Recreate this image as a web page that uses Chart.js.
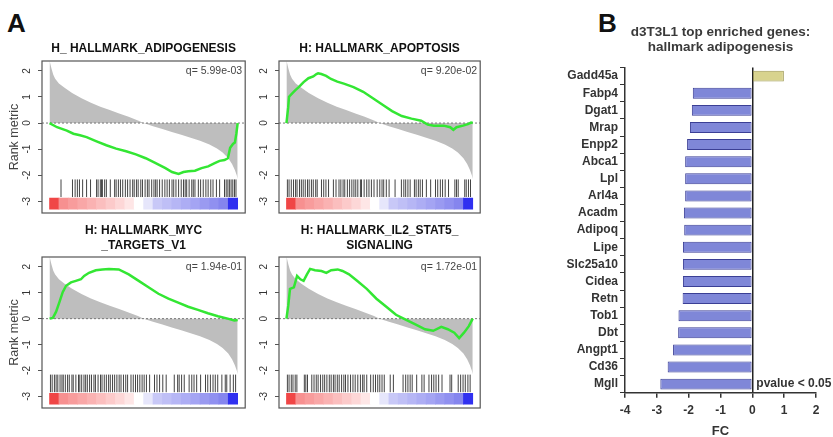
<!DOCTYPE html>
<html>
<head>
<meta charset="utf-8">
<script src="https://cdn.jsdelivr.net/npm/chart.js@4"></script>
<style>
    body { margin: 0; background: #fff; width: 833px; height: 437px; position: relative; overflow: hidden; }
    .box { position: absolute; }
    .tag { position: absolute; font: bold 26px/26px 'Liberation Sans', Arial, sans-serif; color: #111; }
</style>
</head>
<body>
<div class="tag" style="left:7px;top:10px">A</div>
<div class="tag" style="left:598px;top:10px">B</div>
<div class="box" style="left:0;top:30px;width:255px;height:195px"><canvas id="adipo"></canvas></div>
<div class="box" style="left:240px;top:30px;width:250px;height:195px"><canvas id="apopt"></canvas></div>
<div class="box" style="left:0;top:215px;width:255px;height:205px"><canvas id="myc"></canvas></div>
<div class="box" style="left:240px;top:215px;width:250px;height:205px"><canvas id="il2"></canvas></div>
<div class="box" style="left:555px;top:20px;width:278px;height:417px"><canvas id="fcBars"></canvas></div>
<script>
// ranked list metric (shared by the four GSEA plots), x = rank position in %
const rankPos = [0, 1, 2, 3, 5, 8, 12, 17, 22, 27, 32, 37, 42, 47, 50, 55, 60, 65, 70, 75, 80, 85, 89, 92, 95, 97, 98.5, 99.5, 100]
const rankMetric = [2.4, 2.1, 1.85, 1.7, 1.52, 1.35, 1.15, 0.95, 0.78, 0.63, 0.5, 0.37, 0.24, 0.1, 0, -0.12, -0.23, -0.34, -0.45, -0.56, -0.68, -0.82, -0.98, -1.13, -1.35, -1.57, -1.8, -2.0, -2.15]

// running enrichment scores
const adipoEsPos = [0, 4, 9.2, 12.7, 16.2, 19.7, 25, 30.2, 35.4, 40.7, 45.9, 51.1, 56.4, 61.6, 65.1, 68.6, 71.2, 73.8, 77.3, 80.8, 84.3, 87.8, 90.4, 93, 94.8, 96, 97.5, 98.5, 99.3, 100]
const adipoEs = [0, -0.16, -0.29, -0.41, -0.47, -0.54, -0.7, -0.85, -0.98, -1.08, -1.2, -1.35, -1.54, -1.73, -1.88, -1.95, -1.88, -1.85, -1.83, -1.73, -1.66, -1.54, -1.45, -1.42, -1.35, -0.95, -0.8, -0.75, -0.4, 0]
const apoptEsPos = [0, 0.9, 1.4, 3.1, 4.8, 6.6, 9.2, 11.8, 14.4, 16.1, 17, 18.7, 21.3, 23.9, 27.3, 30.8, 36, 41.2, 46.4, 51.6, 56.7, 61.9, 67.1, 72.3, 75.8, 79.2, 84.4, 87.9, 89.6, 91.3, 94.8, 97.4, 99.1, 100]
const apoptEs = [0, 0.58, 1.01, 1.14, 1.26, 1.38, 1.57, 1.72, 1.79, 1.88, 1.91, 1.88, 1.81, 1.69, 1.59, 1.51, 1.38, 1.2, 0.95, 0.7, 0.46, 0.27, 0.17, 0.09, -0.06, -0.1, -0.1, -0.16, -0.26, -0.16, -0.1, -0.04, 0.02, 0]
const mycEsPos = [0, 1.8, 3.5, 5.3, 7, 8.8, 11.4, 14, 16.7, 18.4, 21, 24.6, 28.1, 31.6, 36.8, 42.1, 47.4, 52.6, 57.9, 63.2, 68.4, 73.7, 78.9, 84.2, 89.5, 94.7, 98.2, 100]
const mycEs = [0, 0.03, 0.27, 0.65, 1.02, 1.27, 1.4, 1.46, 1.52, 1.65, 1.77, 1.87, 1.9, 1.92, 1.9, 1.71, 1.46, 1.21, 0.96, 0.77, 0.62, 0.46, 0.34, 0.21, 0.09, 0, -0.07, -0.05]
const il2EsPos = [0, 1, 1.9, 4, 5.7, 7.5, 9.2, 11, 12.7, 15.3, 18.8, 21.4, 24, 27.5, 30.1, 33.6, 37.9, 43.1, 48.3, 53.6, 58.8, 64, 69.2, 74.4, 78.8, 83.1, 86.6, 90.1, 92.7, 95.3, 97.9, 100]
const il2Es = [0, 0.52, 1.15, 1.21, 1.65, 1.52, 1.46, 1.71, 1.92, 1.87, 1.84, 1.77, 1.87, 1.9, 1.84, 1.71, 1.46, 1.15, 0.77, 0.46, 0.15, -0.04, -0.22, -0.41, -0.47, -0.32, -0.41, -0.54, -0.75, -0.54, -0.29, 0]

// gene set hit positions (barcode)
const adipoHits = [6.1, 12.2, 13.6, 14.8, 15.9, 17.6, 19.7, 21.8, 25, 25.8, 27, 27.6, 28.1, 29.3, 30.2, 32.3, 34.6, 35.4, 36.6, 37.7, 38.9, 40.3, 41.5, 42.8, 44.2, 45, 46.2, 47.1, 48.5, 49.4, 50.8, 52, 52.9, 54.3, 55.5, 56.4, 57.2, 58.5, 59.9, 61.3, 62.5, 63.7, 65.1, 66, 67.2, 68.6, 70, 71.2, 72.1, 72.9, 74.2, 75.6, 76.4, 77.3, 79.1, 80.3, 81.7, 83.1, 84.3, 85.7, 86.9, 88.7, 90.4, 93, 93.9, 94.8, 95.6, 96.5, 97.4, 98.3, 99.1]
const apoptHits = [0.5, 1.4, 2.6, 3.8, 4.9, 5.7, 7, 8, 9, 10.1, 11.3, 12.2, 13.4, 14.4, 15.7, 16.5, 18.8, 20, 21.2, 22.6, 25.2, 26.6, 28.2, 29.2, 30.4, 31.3, 32.7, 33.9, 35.1, 36.2, 37.2, 38.3, 39.7, 40.3, 41.7, 43.1, 44.3, 45.6, 47, 48.7, 50.1, 51.3, 52.2, 53.6, 55.1, 58.3, 61.7, 63, 64, 65.2, 66.4, 68.7, 69.6, 70.8, 71.8, 73, 75.1, 77.4, 80, 81.2, 82.6, 83.8, 85.2, 87, 90.4, 91.3, 92.2, 95.7, 96.5, 97.7, 98.8]
const mycHits = [0.5, 1.4, 2.6, 3.5, 4.4, 5.6, 6.6, 7.3, 8.4, 9.6, 10.5, 11.9, 12.6, 14, 15.4, 16.1, 17.1, 18.3, 19.2, 20.1, 21.3, 22.3, 23.6, 24.4, 25.8, 27.1, 27.9, 29.1, 30.2, 31.4, 32.3, 33.5, 34.6, 35.8, 37, 38, 39.3, 40.5, 41.5, 43.3, 44.5, 45.7, 46.8, 48, 49.2, 50.3, 51.5, 53.2, 55.8, 57.1, 58.5, 60.2, 62, 66.3, 68.1, 68.9, 70.2, 71.6, 74.2, 75.6, 76.8, 78.2, 80.3, 82.9, 84.1, 85.5, 86.9, 88.1, 89.4, 91.6, 93.4, 94.2, 96, 97.7, 98.9]
const il2Hits = [0.5, 1.4, 2.6, 3.5, 4.7, 5.6, 9.6, 10.4, 11.3, 13.6, 14.8, 16, 17, 18.3, 19.5, 20.5, 21.7, 23, 24, 25.2, 26.1, 27.3, 28.3, 29.6, 30.8, 31.7, 33, 34.4, 35.7, 36.9, 38.3, 39.7, 40.9, 41.7, 43.1, 45.2, 46.6, 47.8, 49, 50.1, 51.3, 52.5, 55.7, 57.4, 62.6, 64, 65.2, 66.4, 67.5, 69.9, 72.7, 73.9, 76.5, 77.9, 79.1, 80.3, 81.7, 83.5, 87.8, 88.7, 92.2, 93.5, 94.8, 96, 97.4, 98.6]

// panel B
const genes = ['Gadd45a', 'Fabp4', 'Dgat1', 'Mrap', 'Enpp2', 'Abca1', 'Lpl', 'Arl4a', 'Acadm', 'Adipoq', 'Lipe', 'Slc25a10', 'Cidea', 'Retn', 'Tob1', 'Dbt', 'Angpt1', 'Cd36', 'Mgll']
const foldChange = [0.99, -1.87, -1.9, -1.96, -2.05, -2.11, -2.11, -2.11, -2.15, -2.14, -2.18, -2.18, -2.18, -2.19, -2.32, -2.33, -2.49, -2.66, -2.89]

// red-white-blue bar under the barcode
const colorBarShades = ['#f04646', '#f79090', '#f89c9c', '#f9a7a7', '#fab2b2', '#fbbebe', '#fccaca', '#fdd7d7', '#fee6e6', '#ffffff',
    '#e6e6fb', '#c8c8f7', '#bfbff6', '#b6b6f5', '#adadf4', '#a4a4f3', '#9a9af1', '#9090f0', '#8585ee', '#3030f0']

const green = '#33e633'
const grey = '#bebebe'
const blueBar = '#7f87d8'
const khakiBar = '#d8d38e'

Chart.defaults.font.family = "'Liberation Sans', Arial, sans-serif"
Chart.defaults.animation = false

// box around the plot and the q value
const framePlugin = {
    id: 'frame',
    afterDraw(chart, args, opts) {
        const { ctx, chartArea: a } = chart
        ctx.save()
        ctx.strokeStyle = '#555'
        ctx.lineWidth = 1.2
        ctx.strokeRect(a.left, a.top, a.right - a.left, a.bottom - a.top)
        ctx.fillStyle = '#444'
        ctx.font = "10.5px 'Liberation Sans', Arial"
        ctx.textAlign = 'right'
        ctx.textBaseline = 'middle'
        ctx.fillText(opts.q, a.right - 3, a.top + 10)
        ctx.restore()
    },
}

const xy = (xs, ys) => xs.map((x, i) => ({ x, y: ys[i] }))

function gseaPlot(id, title, esPos, es, hits, q, cfg) {
    new Chart(document.getElementById(id), {
        type: 'line',
        plugins: [framePlugin],
        data: {
            datasets: [
                { data: xy(esPos, es), borderColor: green, borderWidth: 2.5, pointRadius: 0, order: 0 },
                { data: [{ x: -4, y: 0 }, { x: 104, y: 0 }], borderColor: '#777', borderWidth: 1, borderDash: [2, 2], pointRadius: 0, order: 1 },
                {
                    data: hits.map((x) => ({ x, y: -2.5 })),
                    showLine: false,
                    pointStyle: 'line',
                    pointRotation: 90,
                    pointRadius: 8.8,
                    pointBorderColor: '#444',
                    pointBorderWidth: 1,
                    order: 2,
                },
                {
                    type: 'bar',
                    data: colorBarShades.map((c, i) => ({ x: ((i + 0.5) * 100) / colorBarShades.length, y: [-3.3, -2.88] })),
                    backgroundColor: colorBarShades,
                    barPercentage: 1,
                    categoryPercentage: 1,
                    borderWidth: 0,
                    order: 3,
                },
                { data: xy(rankPos, rankMetric), borderColor: 'transparent', pointRadius: 0, fill: 'origin', backgroundColor: grey, order: 4 },
            ],
        },
        options: {
            responsive: true,
            maintainAspectRatio: false,
            events: [],
            layout: { padding: { left: 0, right: cfg.right, top: 0, bottom: cfg.bottom } },
            plugins: {
                legend: { display: false },
                tooltip: { enabled: false },
                title: {
                    display: true,
                    text: title,
                    fullSize: false,
                    color: '#111',
                    font: { size: 12, weight: 'bold', lineHeight: 1.2 },
                    padding: cfg.titlePad,
                },
                frame: { q },
            },
            scales: {
                x: { type: 'linear', min: -4, max: 104, display: false, offset: false },
                y: {
                    min: -3.45,
                    max: 2.38,
                    afterFit: (s) => { s.width = cfg.yWidth },
                    ticks: { stepSize: 1, includeBounds: false, minRotation: 90, maxRotation: 90, crossAlign: 'center', padding: 6, color: '#333', font: { size: 10 } },
                    grid: { drawOnChartArea: false, tickLength: 4, tickColor: '#555' },
                    border: { display: false },
                    title: { display: cfg.label, text: 'Rank metric', color: '#444', font: { size: 12.5 }, padding: { top: 7.5, bottom: 0 } },
                },
            },
        },
    })
}

const topPad = { top: 11, bottom: 5.6 }
const lowPad = { top: 8.8, bottom: 4.4 }

gseaPlot('adipo', 'H_ HALLMARK_ADIPOGENESIS', adipoEsPos, adipoEs, adipoHits, 'q= 5.99e-03', { right: 8, bottom: 10, yWidth: 42, titlePad: topPad, label: true })
gseaPlot('apopt', 'H: HALLMARK_APOPTOSIS', apoptEsPos, apoptEs, apoptHits, 'q= 9.20e-02', { right: 7, bottom: 10, yWidth: 39, titlePad: topPad, label: false })
gseaPlot('myc', ['H: HALLMARK_MYC', '_TARGETS_V1'], mycEsPos, mycEs, mycHits, 'q= 1.94e-01', { right: 8, bottom: 8, yWidth: 42, titlePad: lowPad, label: true })
gseaPlot('il2', ['H: HALLMARK_IL2_STAT5_', 'SIGNALING'], il2EsPos, il2Es, il2Hits, 'q= 1.72e-01', { right: 7, bottom: 8, yWidth: 39, titlePad: lowPad, label: false })

const pvaluePlugin = {
    id: 'pvalue',
    afterDatasetsDraw(chart) {
        const { ctx, scales } = chart
        ctx.save()
        ctx.font = "bold 12px 'Liberation Sans', Arial"
        ctx.fillStyle = '#333'
        ctx.textBaseline = 'middle'
        ctx.fillText('pvalue < 0.05', scales.x.getPixelForValue(0) + 4, scales.y.getPixelForValue(genes.length - 1))
        ctx.restore()
    },
}

new Chart(document.getElementById('fcBars'), {
    type: 'bar',
    plugins: [pvaluePlugin],
    data: {
        labels: genes,
        datasets: [
            {
                data: foldChange,
                backgroundColor: foldChange.map((v) => (v > 0 ? khakiBar : blueBar)),
                borderColor: foldChange.map((v) => (v > 0 ? '#9d9752' : '#3b3f95')),
                borderWidth: 1,
                borderSkipped: false,
                categoryPercentage: 0.8,
                barPercentage: 0.8,
            },
        ],
    },
    options: {
        indexAxis: 'y',
        responsive: true,
        maintainAspectRatio: false,
        events: [],
        layout: { padding: { left: 0, right: 17, top: 0, bottom: 0 } },
        plugins: {
            legend: { display: false },
            tooltip: { enabled: false },
            title: {
                display: true,
                text: ['d3T3L1 top enriched genes:', 'hallmark adipogenesis'],
                fullSize: false,
                color: '#3a3a3a',
                font: { size: 13.5, weight: 'bold', lineHeight: 1.07 },
                padding: { top: 5.3, bottom: 13.4 },
            },
        },
        scales: {
            x: {
                min: -4,
                max: 2,
                afterFit: (s) => { s.height = 44.3 },
                ticks: { stepSize: 1, color: '#333', font: { size: 12, weight: 'bold' }, padding: 6 },
                grid: {
                    color: (c) => (c.tick && c.tick.value === 0 ? '#222' : 'transparent'),
                    lineWidth: 1.5,
                    tickColor: '#333',
                    tickLength: 5,
                },
                border: { color: '#333', width: 1.5 },
                title: { display: true, text: 'FC', color: '#333', font: { size: 13, weight: 'bold', lineHeight: 0.8 }, padding: 0 },
            },
            y: {
                afterFit: (s) => { s.width = 70 },
                ticks: { autoSkip: false, color: '#333', font: { size: 12, weight: 'bold' }, padding: 2 },
                grid: { drawOnChartArea: false, tickLength: 5, tickColor: '#333' },
                border: { color: '#333', width: 1.5 },
            },
        },
    },
})
</script>
</body>
</html>
